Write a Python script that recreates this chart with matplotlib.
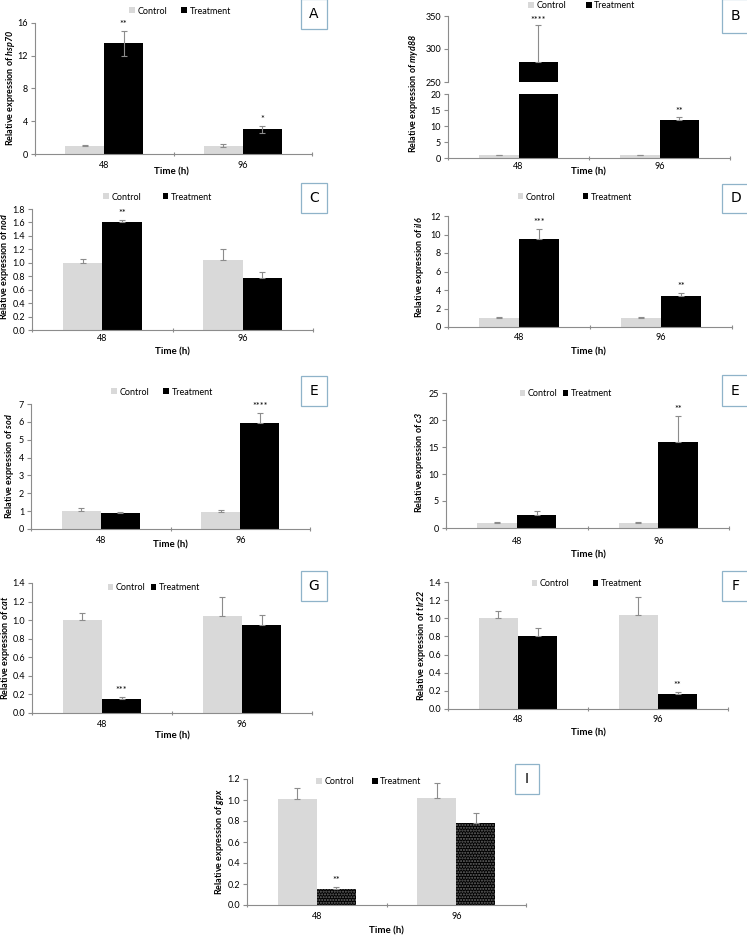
import matplotlib
matplotlib.use("Agg")
import matplotlib.pyplot as plt
from matplotlib.patches import Patch, Rectangle
import numpy as np

plt.rcParams['font.family'] = ['Lato', 'DejaVu Sans']
plt.rcParams['mathtext.fontset'] = 'custom'
plt.rcParams['mathtext.rm'] = 'Lato'
plt.rcParams['mathtext.it'] = 'Lato:italic'
plt.rcParams['mathtext.bf'] = 'Lato:bold'
plt.rcParams['mathtext.bfit'] = 'Lato:italic:bold'

W, H = 747, 936
times = ["48", "96"]
series = ["Control", "Treatment"]

hsp70_ctrl = [1.0, 1.0];   hsp70_ctrl_err = [0.05, 0.2]
hsp70_trt = [13.5, 3.0];   hsp70_trt_err = [1.5, 0.4]
hsp70_sig = ["**", "*"]

myd88_ctrl = [0.8, 0.8];   myd88_ctrl_err = [0.2, 0.2]
myd88_trt = [281.0, 11.8]; myd88_trt_err = [55.0, 1.0]
myd88_sig = ["****", "**"]

nod_ctrl = [1.0, 1.04];    nod_ctrl_err = [0.06, 0.17]
nod_trt = [1.6, 0.78];     nod_trt_err = [0.04, 0.09]
nod_sig = ["**", ""]

il6_ctrl = [1.0, 1.0];     il6_ctrl_err = [0.1, 0.1]
il6_trt = [9.5, 3.4];      il6_trt_err = [1.1, 0.25]
il6_sig = ["***", "**"]

sod_ctrl = [1.0, 0.97];    sod_ctrl_err = [0.15, 0.07]
sod_trt = [0.88, 5.92];    sod_trt_err = [0.1, 0.55]
sod_sig = ["", "****"]

c3_ctrl = [1.0, 1.0];      c3_ctrl_err = [0.15, 0.15]
c3_trt = [2.5, 16.0];      c3_trt_err = [0.7, 4.8]
c3_sig = ["", "**"]

cat_ctrl = [1.0, 1.05];    cat_ctrl_err = [0.08, 0.2]
cat_trt = [0.15, 0.95];    cat_trt_err = [0.02, 0.11]
cat_sig = ["***", ""]

tlr22_ctrl = [1.0, 1.04];  tlr22_ctrl_err = [0.08, 0.19]
tlr22_trt = [0.8, 0.16];   tlr22_trt_err = [0.09, 0.03]
tlr22_sig = ["", "**"]

gpx_ctrl = [1.01, 1.02];   gpx_ctrl_err = [0.1, 0.14]
gpx_trt = [0.15, 0.78];    gpx_trt_err = [0.02, 0.1]
gpx_sig = ["**", ""]

CTRL = "#d9d9d9"
TRT = "#000000"
AX = "#8c8c8c"
ERR = "#8c8c8c"
BOXC = "#8fb3c9"
FS = 6.5

fig = plt.figure(figsize=(W / 100, H / 100), dpi=100)


def rect(l, t, r, b):
    return [l / W, 1 - b / H, (r - l) / W, (b - t) / H]


def fx(x):
    return x / W


def fy(y):
    return 1 - y / H


def style(ax, ylim, yticks, fmt, tick_y=None, bottom_px=None, show_x=True):
    ax.set_xlim(-0.5, 1.5)
    ax.set_ylim(*ylim)
    ax.set_yticks(yticks)
    ax.set_yticklabels([fmt.format(v) for v in yticks])
    for s in ["top", "right"]:
        ax.spines[s].set_visible(False)
    for s in ["left", "bottom"]:
        ax.spines[s].set_color(AX)
        ax.spines[s].set_linewidth(0.8)
    ax.tick_params(axis="y", length=3, width=0.8, color=AX, labelsize=FS, pad=2)
    ax.set_xticks([0, 1])
    if show_x:
        pad = (tick_y - bottom_px - 4.5) / 1.389
        ax.set_xticklabels(times)
        ax.tick_params(axis="x", length=0, labelsize=FS, pad=pad)
    else:
        ax.set_xticklabels([])
        ax.tick_params(axis="x", length=0)
    ax.set_xticks([-0.5, 0.5, 1.5], minor=True)
    ax.tick_params(axis="x", which="minor", length=3, width=0.8, color=AX,
                   direction="inout")


def bars(ax, c, ce, t, te, sig, two_sided=False, dotted=False, sigoff=1.5):
    x = np.arange(len(times))
    w = 0.28
    ax.bar(x - w / 2, c, w, color=CTRL, zorder=2)
    ax.bar(x + w / 2, t, w, color=TRT, zorder=2)
    if dotted:
        ax.bar(x + w / 2, t, w, facecolor="none", edgecolor="#6a6a6a",
               hatch="......", linewidth=0, zorder=2.5)
    if two_sided:
        ye_c, ye_t = ce, te
    else:
        ye_c = [np.zeros(len(ce)), ce]
        ye_t = [np.zeros(len(te)), te]
    ax.errorbar(x - w / 2, c, yerr=ye_c, fmt="none", ecolor=ERR, elinewidth=0.8,
                capsize=2, capthick=0.8, zorder=3)
    ax.errorbar(x + w / 2, t, yerr=ye_t, fmt="none", ecolor=ERR, elinewidth=0.8,
                capsize=2, capthick=0.8, zorder=3)
    for i, s in enumerate(sig):
        if s:
            ax.annotate(s, (x[i] + w / 2, t[i] + te[i]), xytext=(0, sigoff),
                        textcoords="offset points", ha="center", va="bottom",
                        fontsize=FS, zorder=4)


def legend(cx, cy, spacing=2.0):
    h = [Patch(facecolor=CTRL, edgecolor="none"),
         Patch(facecolor=TRT, edgecolor="none")]
    fig.legend(h, series, loc="center", bbox_to_anchor=(fx(cx), fy(cy)),
               ncol=2, frameon=False, fontsize=FS, handlelength=0.6,
               handleheight=0.6, handletextpad=0.3, columnspacing=spacing,
               borderpad=0, borderaxespad=0)


def ylab(x, y, gene):
    fig.text(fx(x), fy(y), "Relative expression of $\\mathbfit{" + gene + "}$",
             rotation=90, ha="center", va="center", fontsize=FS,
             fontweight="bold")


def xlab(x, y):
    fig.text(fx(x), fy(y), "Time (h)", ha="center", va="center",
             fontsize=7, fontweight="bold")


def box(l, t, r, b, letter):
    fig.patches.append(Rectangle((fx(l), fy(b)), (r - l) / W, (b - t) / H,
                                 transform=fig.transFigure, facecolor="white",
                                 edgecolor=BOXC, linewidth=0.9))
    fig.text(fx((l + r) / 2), fy((t + b) / 2), letter, ha="center",
             va="center", fontsize=10, family="DejaVu Sans")


# A: hsp70
ax = fig.add_axes(rect(35, 23, 312, 154))
bars(ax, hsp70_ctrl, hsp70_ctrl_err, hsp70_trt, hsp70_trt_err, hsp70_sig,
     two_sided=True)
style(ax, (0, 16), [0, 4, 8, 12, 16], "{:g}", 166, 154)
legend(180, 11, 1.6)
ylab(11, 88, "hsp70")
xlab(171, 172)
box(301, -1, 327, 29, "A")

# B: myd88 broken axis
axu = fig.add_axes(rect(448, 16, 730, 82))
axl = fig.add_axes(rect(448, 94, 730, 158))
for a in (axu, axl):
    x = np.arange(len(times))
    w = 0.28
    a.bar(x - w / 2, myd88_ctrl, w, color=CTRL, zorder=2)
    a.bar(x + w / 2, myd88_trt, w, color=TRT, zorder=2)
    a.errorbar(x + w / 2, myd88_trt, yerr=[[0, 0], myd88_trt_err], fmt="none",
               ecolor=ERR, elinewidth=0.8, capsize=2, capthick=0.8, zorder=3)
    a.errorbar(x - w / 2, myd88_ctrl, yerr=[[0, 0], myd88_ctrl_err], fmt="none",
               ecolor=ERR, elinewidth=0.8, capsize=2, capthick=0.8, zorder=3)
style(axu, (250, 350), [250, 300, 350], "{:g}", show_x=False)
axu.spines["bottom"].set_visible(False)
axu.tick_params(axis="x", which="both", length=0)
axu.annotate(myd88_sig[0], (0.14, myd88_trt[0] + myd88_trt_err[0]),
             xytext=(0, 0), textcoords="offset points", ha="center",
             va="bottom", fontsize=FS)
style(axl, (0, 20), [0, 5, 10, 15, 20], "{:g}", 167, 158)
axl.annotate(myd88_sig[1], (1.14, myd88_trt[1] + myd88_trt_err[1]),
             xytext=(0, 1), textcoords="offset points", ha="center",
             va="bottom", fontsize=FS)
legend(582, 6, 2.2)
ylab(413, 93, "myd88")
xlab(588, 172)
box(722, -1, 749, 33, "B")

# C: nod
ax = fig.add_axes(rect(32, 209, 313, 330))
bars(ax, nod_ctrl, nod_ctrl_err, nod_trt, nod_trt_err, nod_sig)
style(ax, (0, 1.8), np.round(np.arange(0, 1.81, 0.2), 1), "{:.1f}", 339, 330)
legend(158, 197, 2.4)
ylab(5, 266, "nod")
xlab(172, 352)
box(301, 183, 327, 213, "C")

# D: il6
ax = fig.add_axes(rect(448, 216, 732, 327))
bars(ax, il6_ctrl, il6_ctrl_err, il6_trt, il6_trt_err, il6_sig)
style(ax, (0, 12), [0, 2, 4, 6, 8, 10, 12], "{:g}", 338, 327)
legend(575, 197, 3.0)
ylab(420, 267, "il6")
xlab(588, 352)
box(722, 184, 749, 213, "D")

# E: sod
ax = fig.add_axes(rect(31, 404, 310, 529))
bars(ax, sod_ctrl, sod_ctrl_err, sod_trt, sod_trt_err, sod_sig)
style(ax, (0, 7), [0, 1, 2, 3, 4, 5, 6, 7], "{:g}", 541, 529)
legend(162, 392, 1.6)
ylab(10, 466, "sod")
xlab(170, 545)
box(301, 376, 327, 406, "E")

# E: c3
ax = fig.add_axes(rect(446, 393, 729, 528))
bars(ax, c3_ctrl, c3_ctrl_err, c3_trt, c3_trt_err, c3_sig)
style(ax, (0, 25), [0, 5, 10, 15, 20, 25], "{:g}", 542, 528)
legend(566, 394, 0.6)
ylab(420, 462, "c3")
xlab(588, 555)
box(722, 375, 749, 406, "E")

# G: cat
ax = fig.add_axes(rect(32, 583, 312, 713))
bars(ax, cat_ctrl, cat_ctrl_err, cat_trt, cat_trt_err, cat_sig)
style(ax, (0, 1.4), np.round(np.arange(0, 1.41, 0.2), 1), "{:.1f}", 725, 713)
legend(154, 588, 0.6)
ylab(6, 648, "cat")
xlab(172, 736)
box(301, 571, 327, 601, "G")

# F: tlr22
ax = fig.add_axes(rect(448, 582, 728, 709))
bars(ax, tlr22_ctrl, tlr22_ctrl_err, tlr22_trt, tlr22_trt_err, tlr22_sig)
style(ax, (0, 1.4), np.round(np.arange(0, 1.41, 0.2), 1), "{:.1f}", 720, 709)
legend(587, 584, 2.6)
ylab(422, 645, "tlr22")
xlab(588, 733)
box(722, 571, 749, 601, "F")

# I: gpx
ax = fig.add_axes(rect(247, 779, 526, 905))
bars(ax, gpx_ctrl, gpx_ctrl_err, gpx_trt, gpx_trt_err, gpx_sig, dotted=True)
style(ax, (0, 1.2), np.round(np.arange(0, 1.21, 0.2), 1), "{:.1f}", 917, 905)
legend(369, 782, 2.0)
ylab(219, 842, "gpx")
xlab(386, 931)
box(515, 764, 539, 794, "I")

fig.savefig("out.png", dpi=100, facecolor="white")
